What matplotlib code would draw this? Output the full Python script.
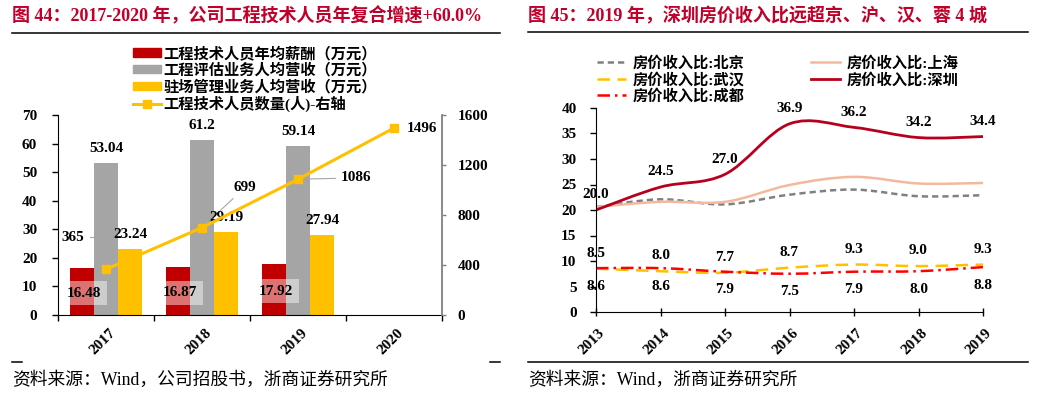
import numpy as np
import matplotlib
matplotlib.use('Agg')
import matplotlib.pyplot as plt
from matplotlib.path import Path
from matplotlib.patches import PathPatch, Patch
from matplotlib.lines import Line2D
from matplotlib.transforms import ScaledTranslation

SERIF = ['Liberation Serif', 'Noto Sans CJK SC']
plt.rcParams['font.family'] = SERIF
plt.rcParams['font.weight'] = 'bold'

# left chart data
years_l = ['2017', '2018', '2019', '2020']
salary = [16.48, 16.87, 17.92]
eval_rev = [53.04, 61.2, 59.14]
site_rev = [23.24, 29.19, 27.94]
staff = [365, 699, 1086, 1496]

# right chart data
years_r = [2013, 2014, 2015, 2016, 2017, 2018, 2019]
beijing = [20.6, 22.1, 21.1, 23.0, 24.0, 22.7, 22.9]
shanghai = [20.6, 21.6, 21.6, 24.9, 26.5, 25.2, 25.3]
shenzhen = [20.0, 24.5, 27.0, 36.9, 36.2, 34.2, 34.4]
wuhan = [8.5, 8.0, 7.7, 8.7, 9.3, 9.0, 9.3]
chengdu = [8.6, 8.6, 7.9, 7.5, 7.9, 8.0, 8.8]

TITLE_RED = '#C0002A'
W, H = 1045, 397


def fx(px):
    return px / W


def fy(py):
    return 1 - py / H


def smooth_path(xs, ys):
    # excel-like smoothed line as bezier segments
    n = len(xs)
    verts = [(xs[0], ys[0])]
    codes = [Path.MOVETO]
    for i in range(n - 1):
        a = i - 1 if i > 0 else i
        d = i + 2 if i + 2 < n else i + 1
        c1 = (xs[i] + (xs[i + 1] - xs[a]) / 6, ys[i] + (ys[i + 1] - ys[a]) / 6)
        c2 = (xs[i + 1] - (xs[d] - xs[i]) / 6, ys[i + 1] - (ys[d] - ys[i]) / 6)
        verts += [c1, c2, (xs[i + 1], ys[i + 1])]
        codes += [Path.CURVE4] * 3
    return Path(verts, codes)


fig = plt.figure(figsize=(W / 100, H / 100), dpi=100)

# ---------------- left chart ----------------
ax = fig.add_axes([fx(58), fy(315), fx(384), 200 / H])
ax2 = ax.twinx()

x = np.arange(len(years_l))
w = 0.25
n = len(salary)
ax.bar(x[:n] - w, salary, w, color='#C00000', zorder=2)
ax.bar(x[:n], eval_rev, w, color='#A5A5A5', zorder=2)
ax.bar(x[:n] + w, site_rev, w, color='#FFC000', zorder=2)

for i in range(n):
    ax.text(x[i] - w + 0.02, salary[i] / 2 - 0.6, f'{salary[i]:.2f}', ha='center', va='center',
            fontsize=11, bbox=dict(facecolor='white', alpha=0.45, edgecolor='none', pad=4), zorder=3)
    ax.annotate(f'{eval_rev[i]:g}', (x[i], eval_rev[i]),
                xytext=(0, 10.5), textcoords='offset points', ha='center', va='center', fontsize=11)
    ax.annotate(f'{site_rev[i]:.2f}', (x[i] + w, site_rev[i]),
                xytext=(0, 10.5), textcoords='offset points', ha='center', va='center', fontsize=11)

ax2.plot(x, staff, color='#FFC000', lw=2.2, marker='s', ms=6, zorder=4)
label_offsets = [(-24, 23), (31, 29), (42, 1)]
conn = ['angle,angleA=0,angleB=90,rad=0', 'arc3', 'arc3']
for i, (dx, dy) in enumerate(label_offsets):
    ax.annotate(str(staff[i]), (x[i], staff[i]), xycoords=ax2.transData,
                xytext=(dx, dy), textcoords='offset points', ha='center', va='center', fontsize=11,
                arrowprops=dict(arrowstyle='-', color='#A6A6A6', lw=0.8, shrinkA=2, shrinkB=0,
                                connectionstyle=conn[i]), zorder=1)
ax2.annotate(str(staff[3]), (x[3], staff[3]), xytext=(9, 0), textcoords='offset points',
             ha='left', va='center', fontsize=11)

ax.set_xlim(-0.5, 3.5)
ax.set_ylim(0, 70)
ax2.set_ylim(0, 1600)
ax.set_yticks(range(0, 71, 10))
ax2.set_yticks(range(0, 1601, 400))
ax.set_xticks(np.arange(-0.5, 4, 1))
ax.set_xticklabels([])
ax.set_xticks(x, minor=True)
ax.set_xticklabels(years_l, minor=True, rotation=45, ha='right', rotation_mode='anchor')
ax.tick_params(axis='x', which='major', direction='out', length=4, width=1)
ax.tick_params(axis='x', which='minor', length=0, pad=8, labelsize=11)
ax.tick_params(axis='y', direction='out', length=4, width=1, pad=11, labelsize=11)
ax2.tick_params(axis='y', direction='out', length=3, width=1, pad=8, labelsize=11, color='#808080')
for lab in ax.get_xticklabels(minor=True):
    lab.set_transform(lab.get_transform() + ScaledTranslation(3 / 100, 0, fig.dpi_scale_trans))
for a in (ax, ax2):
    a.spines['top'].set_visible(False)
ax.spines['right'].set_visible(False)
ax2.spines['left'].set_visible(False)
ax2.spines['bottom'].set_visible(False)
ax2.spines['right'].set_color('#808080')
ax2.spines['right'].set_linewidth(1.3)

leg_handles = [Patch(color='#C00000'), Patch(color='#A5A5A5'), Patch(color='#FFC000'),
               Line2D([], [], color='#FFC000', lw=2.2, marker='s', ms=6)]
leg_labels = ['工程技术人员年均薪酬（万元）', '工程评估业务人均营收（万元）',
              '驻场管理业务人均营收（万元）', '工程技术人员数量(人)-右轴']
fig.legend(leg_handles, leg_labels, loc='upper left', bbox_to_anchor=(fx(133), fy(46)),
           frameon=False, fontsize=11, borderpad=0, borderaxespad=0, handlelength=1.8,
           handleheight=0.45, handletextpad=0.2, labelspacing=0.12)

# ---------------- right chart ----------------
bx = fig.add_axes([fx(596), fy(312), fx(387), 204 / H])
series = [
    (beijing, '#808080', 1.8, (0, (2.5, 1.6))),
    (shanghai, '#F4B99C', 1.8, '-'),
    (wuhan, '#FFC000', 1.8, (0, (5, 3))),
    (chengdu, '#FF0000', 1.8, (0, (5, 2, 1, 2))),
    (shenzhen, '#B7001E', 2.0, '-'),
]
for vals, col, lw, ls in series:
    bx.add_patch(PathPatch(smooth_path(years_r, vals), fill=False, edgecolor=col, lw=lw, linestyle=ls))

for xi, v in zip(years_r, shenzhen):
    bx.annotate(f'{v:.1f}', (xi, v), xytext=(0, 11), textcoords='offset points',
                ha='center', va='center', fontsize=11)
for xi, v in zip(years_r, wuhan):
    bx.annotate(f'{v:.1f}', (xi, v), xytext=(0, 11), textcoords='offset points',
                ha='center', va='center', fontsize=11)
for xi, v in zip(years_r, chengdu):
    bx.annotate(f'{v:.1f}', (xi, v), xytext=(0, -13), textcoords='offset points',
                ha='center', va='center', fontsize=11)

bx.set_xlim(2013, 2019)
bx.set_ylim(0, 40)
bx.set_yticks(range(0, 41, 5))
bx.set_xticks(years_r)
bx.set_xticklabels([str(y) for y in years_r], rotation=45, ha='right', rotation_mode='anchor')
bx.tick_params(axis='x', direction='inout', length=6, width=1, pad=7, labelsize=11)
bx.tick_params(axis='y', direction='out', length=4, width=1, pad=10, labelsize=11)
for lab in bx.get_xticklabels():
    lab.set_transform(lab.get_transform() + ScaledTranslation(2 / 100, 0, fig.dpi_scale_trans))
bx.spines['top'].set_visible(False)
bx.spines['right'].set_visible(False)
for c in (bx, ax):
    c.patch.set_alpha(0)

r_handles = [Line2D([], [], color='#808080', lw=1.8, ls=(0, (2.5, 1.6))),
             Line2D([], [], color='#FFC000', lw=1.8, ls=(0, (5, 3))),
             Line2D([], [], color='#FF0000', lw=1.8, ls=(0, (5, 2, 1, 2))),
             Line2D([], [], color='#F4B99C', lw=1.8),
             Line2D([], [], color='#B7001E', lw=2.0)]
r_labels = ['房价收入比:北京', '房价收入比:武汉', '房价收入比:成都', '房价收入比:上海', '房价收入比:深圳']
fig.legend(r_handles, r_labels, loc='upper left', bbox_to_anchor=(fx(597), fy(56)), ncol=2,
           frameon=False, fontsize=11, borderpad=0, borderaxespad=0, handlelength=1.9,
           handletextpad=0.4, labelspacing=0.12, columnspacing=4.4)

# ---------------- titles, rules and sources ----------------
fig.text(fx(12), fy(16), '图 44：2017-2020 年，公司工程技术人员年复合增速+60.0%',
         color=TITLE_RED, fontsize=13, va='center', ha='left')
fig.text(fx(528), fy(16), '图 45：2019 年，深圳房价收入比远超京、沪、汉、蓉 4 城',
         color=TITLE_RED, fontsize=13, va='center', ha='left')
fig.add_artist(Line2D([fx(12), fx(500)], [fy(33), fy(33)], color='black', lw=1.1))
fig.add_artist(Line2D([fx(528), fx(1028)], [fy(32), fy(32)], color='black', lw=1.1))
fig.add_artist(Line2D([fx(12), fx(22)], [fy(362), fy(362)], color='black', lw=1.1))
fig.add_artist(Line2D([fx(490), fx(500)], [fy(362), fy(362)], color='black', lw=1.1))
fig.add_artist(Line2D([fx(528), fx(1028)], [fy(362), fy(362)], color='black', lw=1.1))
fig.text(fx(12), fy(380), '资料来源：Wind，公司招股书，浙商证券研究所', fontsize=12.8,
         fontweight='normal', va='center', ha='left')
fig.text(fx(528), fy(380), '资料来源：Wind，浙商证券研究所', fontsize=12.8,
         fontweight='normal', va='center', ha='left')

fig.savefig('out.png', dpi=100)
